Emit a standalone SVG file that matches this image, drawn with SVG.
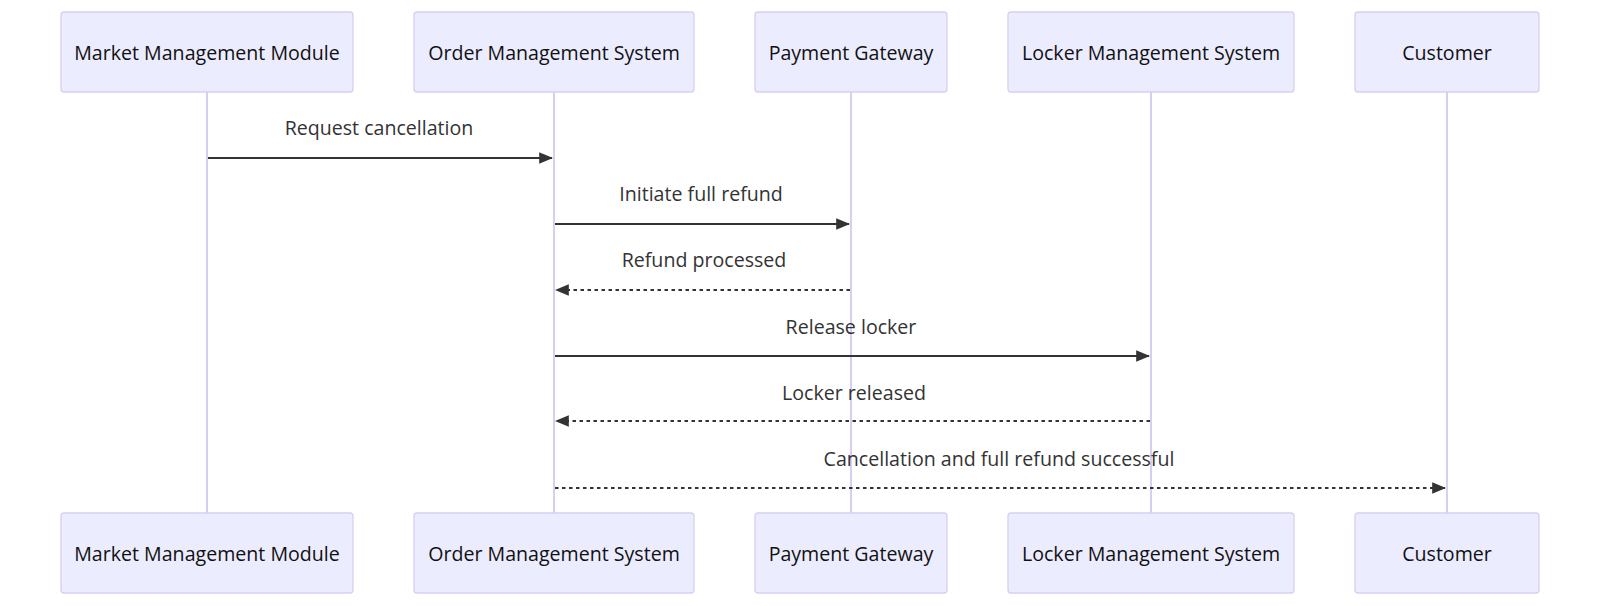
<svg xmlns="http://www.w3.org/2000/svg" width="1600" height="606" viewBox="0 0 1600 606">
<style>
.actor{fill:#ECECFF;stroke:#d6cff2;stroke-width:1.3}
.atext{font-family:"Open Sans","Noto Sans",sans-serif;font-size:19.6px;fill:#111;text-anchor:middle;dominant-baseline:central}
.life{stroke:#d6cff2;stroke-width:2}
.msg{stroke:#333;stroke-width:2;fill:none}
.dash{stroke-dasharray:3.5,3.5}
.mtext{font-family:"Open Sans","Noto Sans",sans-serif;font-size:19.6px;fill:#333;text-anchor:middle}
</style>
<defs>
<marker id="ah" viewBox="0 0 12 10" refX="11" refY="5" markerUnits="userSpaceOnUse" markerWidth="14" markerHeight="12" orient="auto">
<path d="M0,0 L12,5 L0,10 z" fill="#333"/>
</marker>
</defs>
<rect width="1600" height="606" fill="#fff"/>
<g id="lifelines">
<line class="life" x1="207" y1="92" x2="207" y2="513"/>
<line class="life" x1="554" y1="92" x2="554" y2="513"/>
<line class="life" x1="851" y1="92" x2="851" y2="513"/>
<line class="life" x1="1151" y1="92" x2="1151" y2="513"/>
<line class="life" x1="1447" y1="92" x2="1447" y2="513"/>
</g>
<g id="mmm">
<rect class="actor" x="61" y="12" width="292" height="80" rx="3"/>
<text class="atext" x="207" y="52">Market Management Module</text>
<rect class="actor" x="61" y="513" width="292" height="80" rx="3"/>
<text class="atext" x="207" y="553">Market Management Module</text>
</g>
<g id="oms">
<rect class="actor" x="414" y="12" width="280" height="80" rx="3"/>
<text class="atext" x="554" y="52">Order Management System</text>
<rect class="actor" x="414" y="513" width="280" height="80" rx="3"/>
<text class="atext" x="554" y="553">Order Management System</text>
</g>
<g id="pg">
<rect class="actor" x="755" y="12" width="192" height="80" rx="3"/>
<text class="atext" x="851" y="52">Payment Gateway</text>
<rect class="actor" x="755" y="513" width="192" height="80" rx="3"/>
<text class="atext" x="851" y="553">Payment Gateway</text>
</g>
<g id="lms">
<rect class="actor" x="1008" y="12" width="286" height="80" rx="3"/>
<text class="atext" x="1151" y="52">Locker Management System</text>
<rect class="actor" x="1008" y="513" width="286" height="80" rx="3"/>
<text class="atext" x="1151" y="553">Locker Management System</text>
</g>
<g id="cust">
<rect class="actor" x="1355" y="12" width="184" height="80" rx="3"/>
<text class="atext" x="1447" y="52">Customer</text>
<rect class="actor" x="1355" y="513" width="184" height="80" rx="3"/>
<text class="atext" x="1447" y="553">Customer</text>
</g>
<g id="connectors">
<line class="msg" x1="208" y1="158" x2="552" y2="158" marker-end="url(#ah)"/>
<text class="mtext" x="379" y="135">Request cancellation</text>
<line class="msg" x1="555" y1="224" x2="849" y2="224" marker-end="url(#ah)"/>
<text class="mtext" x="701" y="201">Initiate full refund</text>
<line class="msg dash" x1="850" y1="290" x2="556" y2="290" marker-end="url(#ah)"/>
<text class="mtext" x="704" y="267">Refund processed</text>
<line class="msg" x1="555" y1="356" x2="1149" y2="356" marker-end="url(#ah)"/>
<text class="mtext" x="851" y="334">Release locker</text>
<line class="msg dash" x1="1150" y1="421" x2="556" y2="421" marker-end="url(#ah)"/>
<text class="mtext" x="854" y="400">Locker released</text>
<line class="msg dash" x1="555" y1="488" x2="1445" y2="488" marker-end="url(#ah)"/>
<text class="mtext" x="999" y="466">Cancellation and full refund successful</text>
</g>
</svg>
